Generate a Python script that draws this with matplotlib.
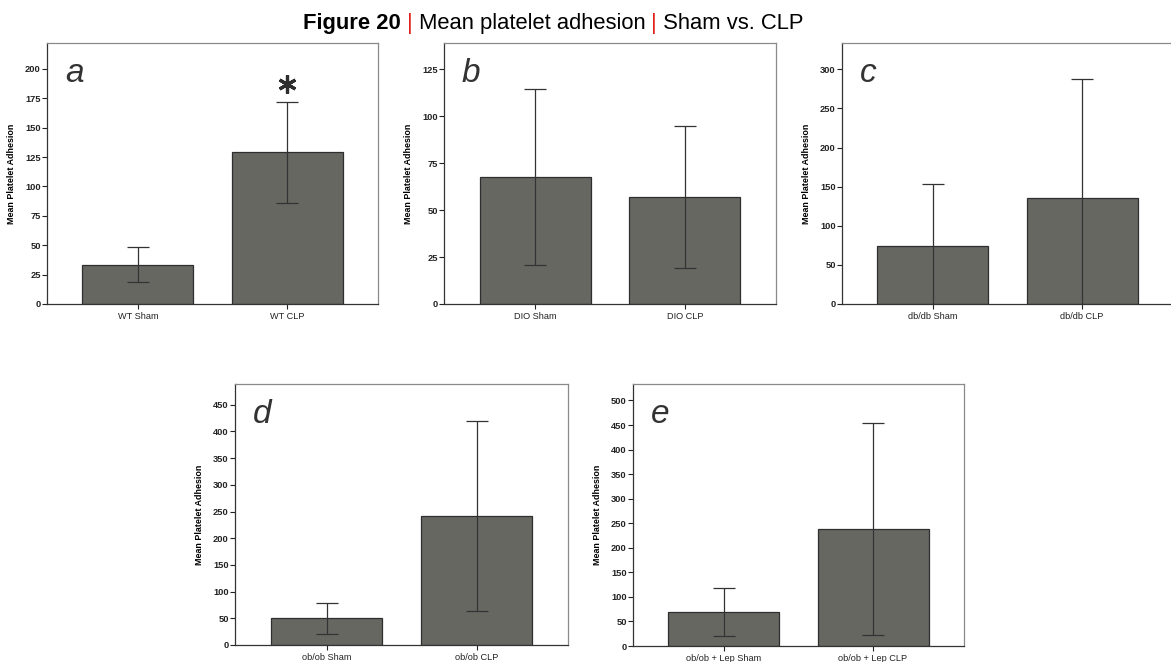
import matplotlib
matplotlib.use("Agg")
import matplotlib.pyplot as plt
import numpy as np

plt.rcParams['font.family'] = ['Liberation Sans', 'DejaVu Sans']

# ---- data ----
labels_a = ["WT Sham", "WT CLP"]
means_a = [33.5, 129.0]
errs_a = [15.0, 42.8]

labels_b = ["DIO Sham", "DIO CLP"]
means_b = [67.5, 57.1]
errs_b = [46.8, 37.8]

labels_c = ["db/db Sham", "db/db CLP"]
means_c = [73.8, 134.9]
errs_c = [79.4, 152.7]

labels_d = ["ob/ob Sham", "ob/ob CLP"]
means_d = [50.0, 241.9]
errs_d = [29.2, 178.0]

labels_e = ["ob/ob + Lep Sham", "ob/ob + Lep CLP"]
means_e = [69.4, 238.2]
errs_e = [48.3, 216.8]

panel_letters = ["a", "b", "c", "d", "e"]
yticks_a = [0, 25, 50, 75, 100, 125, 150, 175, 200]
yticks_b = [0, 25, 50, 75, 100, 125]
yticks_c = [0, 50, 100, 150, 200, 250, 300]
yticks_d = [0, 50, 100, 150, 200, 250, 300, 350, 400, 450]
yticks_e = [0, 50, 100, 150, 200, 250, 300, 350, 400, 450, 500]
ylims = [222, 139, 333.6, 488.8, 533.5]
sig_y = 187  # asterisk position (panel a, CLP)

W, H = 1171, 662
fig = plt.figure(figsize=(W / 100, H / 100), dpi=100)

# pixel boxes: left, top, right, bottom
boxes = [
    (47, 43, 378, 304),
    (444, 43, 776, 304),
    (842, 43, 1173, 304),
    (235, 384, 568, 645),
    (633, 384, 964, 646),
]

panels = [
    (labels_a, means_a, errs_a, yticks_a),
    (labels_b, means_b, errs_b, yticks_b),
    (labels_c, means_c, errs_c, yticks_c),
    (labels_d, means_d, errs_d, yticks_d),
    (labels_e, means_e, errs_e, yticks_e),
]

bar_color = "#676762"
edge_color = "#2e2e2e"

for i, ((l, t, r, b), (labs, means, errs, yt)) in enumerate(zip(boxes, panels)):
    ax = fig.add_axes([l / W, 1 - b / H, (r - l) / W, (b - t) / H])
    x = np.arange(len(labs))
    ax.bar(x, means, width=0.745, color=bar_color, edgecolor=edge_color, linewidth=0.9, zorder=2)
    ax.errorbar(x, means, yerr=errs, fmt='none', ecolor="#333333", elinewidth=0.9,
                capsize=7.9, capthick=0.9, zorder=3)
    ax.set_xlim(-0.61, 1.61)
    ax.set_ylim(0, ylims[i])
    ax.set_yticks(yt)
    ax.set_yticklabels([str(v) for v in yt], fontsize=6.7, fontweight='bold')
    ax.set_xticks(x)
    ax.set_xticklabels(labs, fontsize=6.6)
    ax.tick_params(axis='both', length=3.5, width=0.8, pad=1.0, colors="#222222")
    ax.tick_params(axis='x', pad=2.3)
    ax.set_ylabel("Mean Platelet Adhesion", fontsize=6.4, fontweight='bold')
    ax.yaxis.set_label_coords(-31 / (r - l), 0.5)
    for side in ['top', 'right']:
        ax.spines[side].set_color("#8a8a8a")
        ax.spines[side].set_linewidth(0.9)
    for side in ['left', 'bottom']:
        ax.spines[side].set_color("#333333")
        ax.spines[side].set_linewidth(0.9)
    ax.annotate(panel_letters[i], xy=(0, 1), xycoords='axes fraction',
                xytext=(18, -39), textcoords='offset pixels',
                fontsize=24, fontstyle='italic', color="#333333",
                ha='left', va='baseline')
    if i == 0:
        ax.plot([1], [sig_y], marker=(6, 2, 0), markersize=13, markeredgewidth=2.3,
                color="#2e2e2e", linestyle='none', clip_on=False, zorder=4)

# ---- title ----
fig.canvas.draw()
renderer = fig.canvas.get_renderer()
pieces = [
    ("Figure 20 ", 'bold', 'black'),
    ("|", 'normal', '#e0201b'),
    (" Mean platelet adhesion ", 'normal', 'black'),
    ("|", 'normal', '#e0201b'),
    (" Sham vs. CLP", 'normal', 'black'),
]
xpos = 303
ybase = 1 - 29 / H
for txt, wt, col in pieces:
    t = fig.text(xpos / W, ybase, txt, fontsize=15.8, fontweight=wt, color=col,
                 ha='left', va='baseline')
    bb = t.get_window_extent(renderer=renderer)
    xpos += bb.width

fig.savefig("out.png", dpi=100)
